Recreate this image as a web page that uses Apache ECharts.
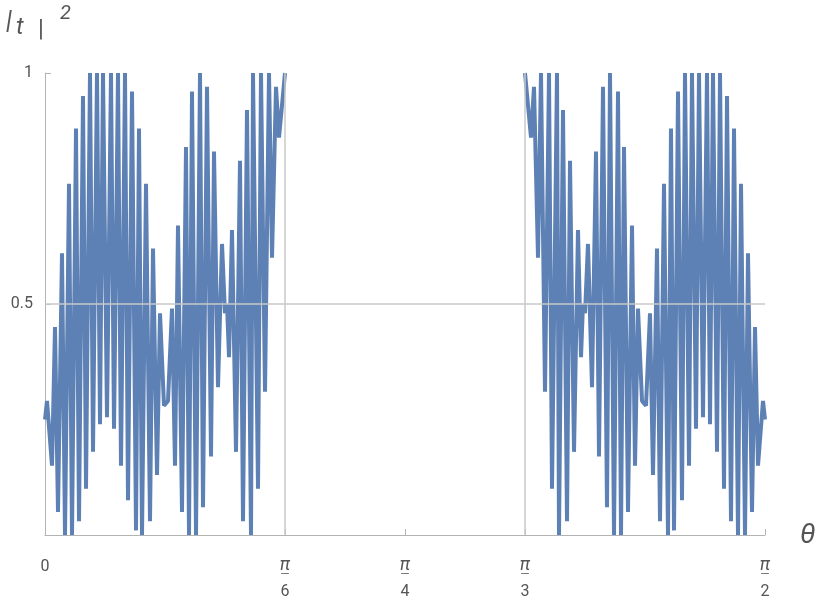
<!DOCTYPE html>
<html><head><meta charset="utf-8">
<script src="https://cdn.jsdelivr.net/npm/echarts@6/dist/echarts.min.js"></script>
<style>html,body{margin:0;padding:0;background:#fff}#c{width:830px;height:611px}</style>
</head><body><div id="c"></div>
<script>
// theta in degrees (0..90 = 0..pi/2)
const thetaLeft = [0,0.25,0.875,1.25,1.625,2.125,2.5,3,3.375,3.875,4.25,4.75,5.125,5.625,6,6.5,6.875,7.25,7.75,8.25,8.625,9.125,9.5,10,10.375,10.875,11.375,11.75,12.125,12.625,13.125,13.5,14,14.375,14.875,15.375,15.875,16.25,16.625,17.125,17.625,18,18.375,18.875,19.375,19.75,20.25,20.75,21.125,21.625,22.125,22.5,22.75,23,23.375,23.875,24.375,24.75,25.25,25.75,26,26.625,27,27.5,28,28.375,28.875,29.25,30];
const valuesLeft = [0.25,0.29,0.15,0.45,0.05,0.61,0,0.76,0,0.88,0.03,0.95,0.10,1,0.18,1,0.24,1,0.255,1,0.23,1,0.15,1,0.075,0.96,0.01,0.88,0,0.76,0.03,0.62,0.13,0.48,0.28,0.29,0.49,0.15,0.67,0.05,0.84,0,0.96,0,1,0.06,0.97,0.17,0.83,0.32,0.63,0.48,0.5,0.385,0.66,0.18,0.81,0.03,0.92,0,1,0.10,1,0.31,1,0.60,0.97,0.86,1.0];
const thetaRight = [60,60.75,61.125,61.625,62,62.5,63,63.375,64,64.25,64.75,65.25,65.625,66.125,66.625,67,67.25,67.5,67.875,68.375,68.875,69.25,69.75,70.25,70.625,71.125,71.625,72,72.375,72.875,73.375,73.75,74.125,74.625,75.125,75.625,76,76.5,76.875,77.375,77.875,78.25,78.625,79.125,79.625,80,80.5,80.875,81.375,81.75,82.25,82.75,83.125,83.5,84,84.375,84.875,85.25,85.75,86.125,86.625,87,87.5,87.875,88.375,88.75,89.125,89.75,90];
const valuesRight = [1.0,0.86,0.97,0.60,1,0.31,1,0.10,1,0,0.92,0.03,0.81,0.18,0.66,0.385,0.5,0.48,0.63,0.32,0.83,0.17,0.97,0.06,1,0,0.96,0,0.84,0.05,0.67,0.15,0.49,0.29,0.28,0.48,0.13,0.62,0.03,0.76,0,0.88,0.01,0.96,0.075,1,0.15,1,0.23,1,0.255,1,0.24,1,0.18,1,0.10,0.95,0.03,0.88,0,0.76,0,0.61,0.05,0.45,0.15,0.29,0.25];
const xTicks = [0,30,45,60,90];
const xTickDenoms = {30:'6',45:'4',60:'3',90:'2'};
const yTicks = [0.5,1];

const ch = echarts.init(document.getElementById('c'));
const blue = '#5e81b5', gray = '#b3b3b3';
const mk = (t,v)=>t.map((x,i)=>[x,v[i]]);
ch.setOption({
  animation:false,
  grid:{left:45,right:65,top:73,bottom:76,containLabel:false},
  graphic:[
    {type:'text',left:6,top:8,style:{text:'|',font:'italic 26px Roboto',fill:'#555'}},
    {type:'text',left:16,top:16,style:{text:'t',font:'italic 24px Roboto',fill:'#555'}},
    {type:'text',left:38,top:18,style:{text:'|',font:'24px Roboto',fill:'#555'}},
    {type:'text',left:60,top:4,style:{text:'2',font:'italic 20px Roboto',fill:'#555'}},
    {type:'text',left:800,top:522,style:{text:'θ',font:'italic 28px Roboto',fill:'#555'}}
  ],
  xAxis:{type:'value',min:0,max:90,
    axisLine:{onZero:false,lineStyle:{color:gray,width:1}},
    axisTick:{customValues:xTicks,inside:true,length:6,lineStyle:{color:gray}},
    minorTick:{show:false},
    splitLine:{show:false},
    axisLabel:{customValues:xTicks,margin:24,color:'#555',fontFamily:'Roboto',fontSize:16,
      formatter:v=> v===0 ? '{z|0}' : '{n|π}\n{l|—}\n{d|'+xTickDenoms[v]+'}',
      rich:{z:{fontSize:16,color:'#555',padding:[0,0,0,0]},
        n:{fontSize:18,color:'#555',fontStyle:'italic',lineHeight:12},
        l:{fontSize:12,color:'#777',lineHeight:8},
        d:{fontSize:16,color:'#555',lineHeight:26}}}
  },
  yAxis:{type:'value',min:0,max:1,interval:0.5,
    axisLine:{show:true,lineStyle:{color:gray}},
    axisTick:{show:true,inside:true,length:6,lineStyle:{color:gray}},
    splitLine:{show:false},
    axisLabel:{color:'#555',fontFamily:'Roboto',fontSize:16,margin:12,formatter:v=>v===0?'':String(v)}
  },
  series:[
    {type:'line',data:mk(thetaLeft,valuesLeft),showSymbol:false,lineStyle:{color:blue,width:4},z:3,
     markLine:{silent:true,symbol:'none',label:{show:false},lineStyle:{color:'#c8c8c8',type:'solid',width:1.5},
       data:[{xAxis:30},{xAxis:60},{yAxis:0.5}]}},
    {type:'line',data:mk(thetaRight,valuesRight),showSymbol:false,lineStyle:{color:blue,width:4},z:3}
  ]
});
</script></body></html>
